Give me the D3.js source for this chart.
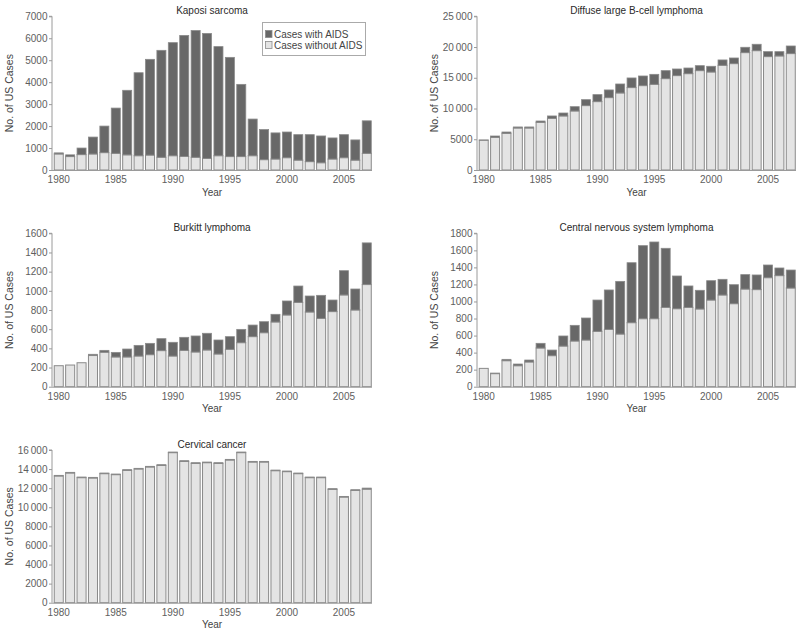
<!DOCTYPE html>
<html>
<head>
<meta charset="utf-8">
<script src="https://cdn.jsdelivr.net/npm/d3@7"></script>
<style>
  html, body { margin: 0; padding: 0; background: #fff; }
  svg { display: block; font-family: "Liberation Sans", Arial, Helvetica, sans-serif; }
</style>
</head>
<body>
<svg id="chart" width="800" height="638"></svg>
<script>
// ---------- DATA ----------
const years = d3.range(1980, 2008);
const xTickYears = [1980, 1985, 1990, 1995, 2000, 2005];

const kaposiWithout = [730, 610, 700, 730, 790, 760, 690, 650, 680, 580, 650, 620, 580, 530, 650, 610, 610, 650, 470, 500, 560, 450, 380, 330, 500, 560, 450, 760];
const kaposiWith    = [50, 80, 300, 770, 1210, 2060, 2940, 3780, 4360, 4870, 5150, 5510, 5770, 5690, 4970, 4520, 3290, 1670, 1370, 1190, 1170, 1160, 1230, 1220, 960, 1050, 920, 1480];
const kaposiTicks = [0, 1000, 2000, 3000, 4000, 5000, 6000, 7000];
const kaposiTickLabels = ["0", "1000", "2000", "3000", "4000", "5000", "6000", "7000"];

const dlbclWithout = [4850, 5310, 5970, 6830, 6830, 7760, 8410, 8790, 9600, 10470, 11120, 11770, 12530, 13400, 13720, 13940, 14860, 15350, 15670, 16160, 15940, 17030, 17300, 19090, 19410, 18440, 18550, 18930];
const dlbclWith    = [30, 220, 210, 170, 170, 210, 380, 480, 700, 970, 1140, 1250, 1460, 1570, 1570, 1620, 1300, 1080, 920, 810, 930, 870, 920, 870, 1040, 810, 700, 1240];
const dlbclTicks = [0, 5000, 10000, 15000, 20000, 25000];
const dlbclTickLabels = ["0", "5000", "10\u2009000", "15\u2009000", "20\u2009000", "25\u2009000"];

const burkittWithout = [219, 226, 250, 325, 360, 310, 310, 320, 334, 376, 320, 379, 362, 383, 341, 390, 459, 522, 563, 675, 748, 880, 779, 713, 783, 957, 800, 1065];
const burkittWith    = [0, 0, 0, 13, 19, 48, 83, 111, 118, 125, 143, 136, 167, 174, 146, 132, 139, 121, 115, 80, 146, 170, 167, 240, 121, 253, 219, 435];
const burkittTicks = [0, 200, 400, 600, 800, 1000, 1200, 1400, 1600];
const burkittTickLabels = ["0", "200", "400", "600", "800", "1000", "1200", "1400", "1600"];

const cnsWithout = [215, 153, 305, 246, 290, 454, 364, 477, 536, 548, 650, 673, 618, 751, 798, 798, 931, 915, 931, 912, 1017, 1076, 974, 1146, 1139, 1279, 1303, 1158];
const cnsWith    = [0, 7, 16, 20, 23, 55, 66, 118, 184, 258, 367, 462, 618, 704, 857, 900, 693, 384, 251, 219, 227, 184, 223, 169, 172, 149, 90, 211];
const cnsTicks = [0, 200, 400, 600, 800, 1000, 1200, 1400, 1600, 1800];
const cnsTickLabels = ["0", "200", "400", "600", "800", "1000", "1200", "1400", "1600", "1800"];

const cervicalWithout = [13275, 13590, 13100, 13065, 13520, 13415, 13870, 14010, 14220, 14390, 15720, 14810, 14600, 14670, 14600, 14950, 15720, 14740, 14740, 13830, 13730, 13520, 13100, 13100, 11880, 11070, 11770, 11900];
const cervicalWith    = [70, 70, 70, 70, 70, 70, 70, 70, 70, 70, 70, 70, 70, 70, 70, 70, 70, 70, 70, 70, 70, 70, 70, 70, 70, 70, 70, 110];
const cervicalTicks = [0, 2000, 4000, 6000, 8000, 10000, 12000, 14000, 16000];
const cervicalTickLabels = ["0", "2000", "4000", "6000", "8000", "10\u2009000", "12\u2009000", "14\u2009000", "16\u2009000"];

const panelTitles = ["Kaposi sarcoma", "Diffuse large B-cell lymphoma", "Burkitt lymphoma", "Central nervous system lymphoma", "Cervical cancer"];
const legendLabels = ["Cases with AIDS", "Cases without AIDS"];

// ---------- LAYOUT ----------
const COLOR_WITH = "#686868";
const COLOR_WITHOUT = "#e4e4e4";
const BAR_STROKE = "#8a8a8a";
const AXIS_COLOR = "#9a9a9a";
const TEXT_COLOR = "#444";
const TICK_COLOR = "#5e5e5e";

const panels = [
  { title: panelTitles[0], without: kaposiWithout, with: kaposiWith, ticks: kaposiTicks, labels: kaposiTickLabels,
    x0: 52, x1: 372, y0: 170, y1: 16.3, legend: true },
  { title: panelTitles[1], without: dlbclWithout, with: dlbclWith, ticks: dlbclTicks, labels: dlbclTickLabels,
    x0: 477, x1: 796, y0: 170, y1: 16.3 },
  { title: panelTitles[2], without: burkittWithout, with: burkittWith, ticks: burkittTicks, labels: burkittTickLabels,
    x0: 52, x1: 372, y0: 386.7, y1: 233.3 },
  { title: panelTitles[3], without: cnsWithout, with: cnsWith, ticks: cnsTicks, labels: cnsTickLabels,
    x0: 477, x1: 796, y0: 386.7, y1: 233.3 },
  { title: panelTitles[4], without: cervicalWithout, with: cervicalWith, ticks: cervicalTicks, labels: cervicalTickLabels,
    x0: 52, x1: 372, y0: 602.7, y1: 450 }
];

const svg = d3.select("#chart");

panels.forEach(p => {
  const g = svg.append("g");
  const x = d3.scaleBand().domain(years).range([p.x0 + 1.5, p.x1]).paddingInner(0.12).paddingOuter(0.02);
  const yMax = p.ticks[p.ticks.length - 1];
  const y = d3.scaleLinear().domain([0, yMax]).range([p.y0, p.y1]);

  const rows = years.map((yr, i) => ({ year: yr, without: p.without[i], with: p.with[i] }));

  g.selectAll("rect.without").data(rows).join("rect")
    .attr("class", "without")
    .attr("x", d => x(d.year) + 0.5)
    .attr("width", x.bandwidth() - 1)
    .attr("y", d => y(d.without))
    .attr("height", d => y(0) - y(d.without))
    .attr("fill", COLOR_WITHOUT)
    .attr("stroke", BAR_STROKE)
    .attr("stroke-width", 1);

  g.selectAll("rect.with").data(rows.filter(d => d.with > 0)).join("rect")
    .attr("class", "with")
    .attr("x", d => x(d.year) + 0.5)
    .attr("width", x.bandwidth() - 1)
    .attr("y", d => y(d.without + d.with))
    .attr("height", d => y(d.without) - y(d.without + d.with))
    .attr("fill", COLOR_WITH)
    .attr("stroke", BAR_STROKE)
    .attr("stroke-width", 0.8);

  const yAxis = d3.axisLeft(y).tickValues(p.ticks).tickSize(3).tickPadding(1.5)
    .tickFormat((d, i) => p.labels[i]);
  const ya = g.append("g").attr("transform", `translate(${p.x0},0)`).call(yAxis);
  ya.select(".domain").attr("stroke", AXIS_COLOR).attr("d", `M-3,${y(yMax)}H0V${y(0)}`);
  ya.selectAll(".tick line").attr("stroke", AXIS_COLOR);
  ya.selectAll(".tick text").attr("fill", TICK_COLOR).style("font-size", "10px")
    .style("font-family", "'Liberation Sans', Arial, sans-serif");

  const xAxis = d3.axisBottom(x).tickValues(xTickYears).tickSize(0).tickPadding(6);
  const xa = g.append("g").attr("transform", `translate(0,${p.y0})`).call(xAxis);
  xa.select(".domain").attr("stroke", AXIS_COLOR).attr("d", `M${p.x0},0.5H${p.x1}`);
  xa.selectAll(".tick text").attr("fill", TICK_COLOR).style("font-size", "10px")
    .style("font-family", "'Liberation Sans', Arial, sans-serif");

  const cx = (p.x0 + p.x1) / 2;
  g.append("text").attr("x", cx).attr("y", p.y1 - 2.5)
    .attr("text-anchor", "middle").attr("fill", "#2a2a2a").style("font-size", "10px")
    .text(p.title);
  g.append("text").attr("x", cx).attr("y", p.y0 + 25.5)
    .attr("text-anchor", "middle").attr("fill", TEXT_COLOR).style("font-size", "10px")
    .text("Year");
  g.append("text")
    .attr("transform", `translate(${p.x0 - 39},${(p.y0 + p.y1) / 2}) rotate(-90)`)
    .attr("text-anchor", "middle").attr("fill", TEXT_COLOR).style("font-size", "10.5px")
    .text("No. of US Cases");

  if (p.legend) {
    const lg = g.append("g");
    lg.append("rect").attr("x", 262.5).attr("y", 22.5).attr("width", 103).attr("height", 33)
      .attr("fill", "#fff").attr("stroke", "#aaa").attr("stroke-width", 1);
    [COLOR_WITH, COLOR_WITHOUT].forEach((c, i) => {
      lg.append("rect").attr("x", 265.5).attr("y", 30.5 + i * 11).attr("width", 6.5).attr("height", 7)
        .attr("fill", c).attr("stroke", BAR_STROKE).attr("stroke-width", 0.8);
      lg.append("text").attr("x", 274).attr("y", 37.5 + i * 11)
        .attr("fill", TEXT_COLOR).style("font-size", "10px").text(legendLabels[i]);
    });
  }
});
</script>
</body>
</html>
